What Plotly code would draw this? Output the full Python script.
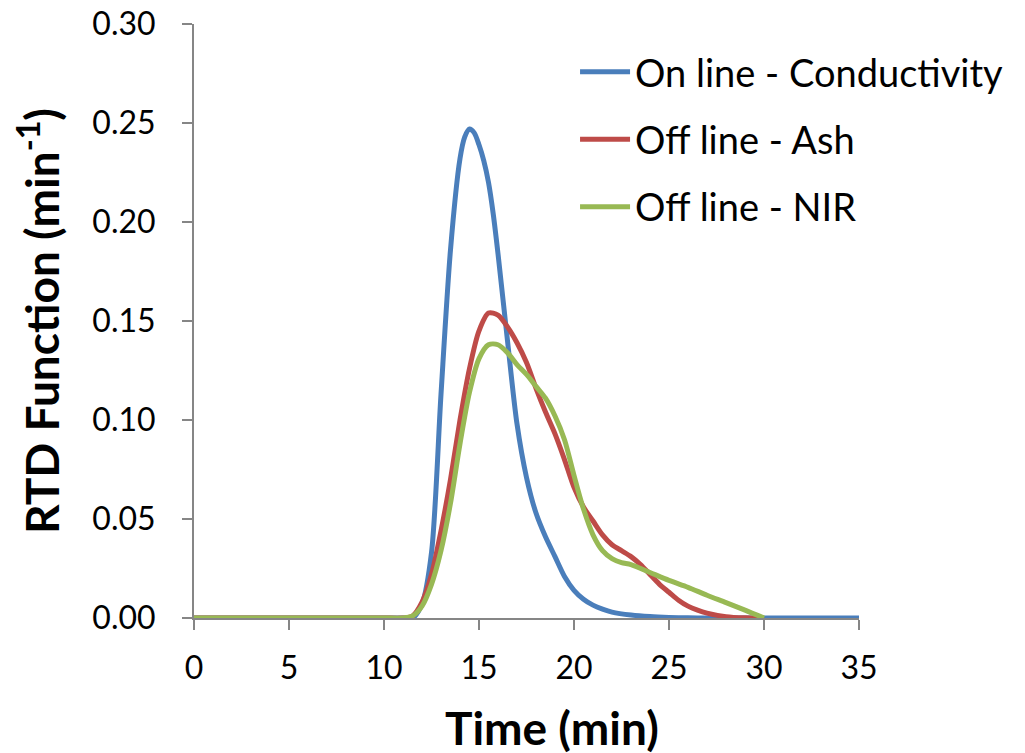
import plotly.graph_objects as go

# Time axis (min)
time_blue = [0, 1, 2, 3, 4, 5, 6, 7, 8, 9, 10, 11, 11.5, 12, 12.5, 13, 13.5, 14, 14.25, 14.5, 14.75, 15,
             15.25, 15.5, 15.75, 16, 16.5, 17, 17.5, 18, 18.5, 19, 19.5, 20, 20.5, 21, 21.5, 22, 23, 24, 25,
             26, 27, 28, 29, 30, 31, 32, 33, 34, 35]
rtd_conductivity = [0, 0, 0, 0, 0, 0, 0, 0, 0, 0, 0, 0, 0.0, 0.007, 0.033, 0.113, 0.186, 0.232, 0.243, 0.247, 0.245, 0.239,
                    0.231, 0.220, 0.204, 0.184, 0.140, 0.098, 0.071, 0.053, 0.041, 0.031, 0.021, 0.014, 0.0095, 0.0065, 0.0045, 0.003, 0.0015, 0.0007, 0.0003,
                    0.0001, 0, 0, 0, 0, 0, 0, 0, 0, 0]

time_ash = [0, 1, 2, 3, 4, 5, 6, 7, 8, 9, 10, 11, 11.5, 12, 12.5, 13, 13.5, 14, 14.5, 15,
            15.5, 16, 16.5, 17, 17.5, 18, 18.5, 19, 19.5, 20, 20.5, 21, 21.5, 22, 22.5, 23,
            23.5, 24, 24.5, 25, 25.5, 26, 26.5, 27, 28, 29, 30]
rtd_ash = [0, 0, 0, 0, 0, 0, 0, 0, 0, 0, 0, 0, 0.001, 0.008, 0.022, 0.044, 0.070, 0.100, 0.126, 0.145,
           0.154, 0.153, 0.147, 0.139, 0.129, 0.116, 0.104, 0.093, 0.080, 0.066, 0.056, 0.049, 0.042, 0.037, 0.034, 0.031,
           0.027, 0.022, 0.017, 0.013, 0.009, 0.006, 0.004, 0.0025, 0.0007, 0.0001, 0]

time_nir = [0, 1, 2, 3, 4, 5, 6, 7, 8, 9, 10, 11, 11.5, 12, 12.5, 13, 13.5, 14, 14.5, 15,
            15.5, 16, 16.5, 17, 17.5, 18, 18.5, 19, 19.5, 20, 20.5, 21, 21.5, 22, 22.5, 23,
            24, 25, 26, 27, 28, 29, 30]
rtd_nir = [0, 0, 0, 0, 0, 0, 0, 0, 0, 0, 0, 0, 0.001, 0.006, 0.017, 0.034, 0.058, 0.088, 0.114, 0.131,
           0.138, 0.138, 0.134, 0.128, 0.123, 0.117, 0.111, 0.102, 0.090, 0.072, 0.055, 0.042, 0.034, 0.030, 0.028, 0.027,
           0.023, 0.019, 0.0155, 0.0115, 0.0078, 0.004, 0]

series_names = ["On line - Conductivity", "Off line - Ash", "Off line - NIR"]
series_colors = ["#4A7EBB", "#BE4B48", "#98B954"]

x_ticks = [0, 5, 10, 15, 20, 25, 30, 35]
y_ticks = [0, 0.05, 0.10, 0.15, 0.20, 0.25, 0.30]

x_title = "<b>Time (min)</b>"
y_title = "<b>RTD Function (min<sup>-1</sup>)</b>"

FONT = "Lato"

fig = go.Figure()
for i, (xs, ys) in enumerate([(time_blue, rtd_conductivity), (time_ash, rtd_ash), (time_nir, rtd_nir)]):
    fig.add_trace(go.Scatter(
        x=xs, y=ys, mode="lines", name=series_names[i], legendgroup=f"g{i}",
        line=dict(color=series_colors[i], width=5, shape="spline", smoothing=0.8),
        cliponaxis=False,
    ))

axis_color = "#868686"
fig.update_layout(
    width=1025, height=753,
    margin=dict(l=186, r=174, t=16, b=143),
    paper_bgcolor="white", plot_bgcolor="white",
    font=dict(family=FONT, color="black"),
    showlegend=True,
    legend=dict(
        x=0.573, y=0.972, xanchor="left", yanchor="top",
        font=dict(family=FONT, size=38, color="black"),
        bgcolor="rgba(0,0,0,0)", tracegroupgap=15, itemwidth=50,
    ),
    xaxis=dict(
        range=[0, 35], tickvals=x_ticks, ticktext=[str(v) for v in x_ticks],
        showgrid=False, zeroline=False, showline=True, linecolor=axis_color, linewidth=2,
        ticks="outside", ticklen=10, tickwidth=2, tickcolor=axis_color,
        tickfont=dict(family=FONT, size=32, color="black"), ticklabelstandoff=11,
        ticklabeloverflow="allow", automargin=False,
    ),
    yaxis=dict(
        range=[0, 0.30], tickvals=y_ticks, tickformat=".2f",
        showgrid=False, zeroline=False, showline=True, linecolor=axis_color, linewidth=2,
        ticks="outside", ticklen=10, tickwidth=2, tickcolor=axis_color,
        tickfont=dict(family=FONT, size=32, color="black"), ticklabelstandoff=20,
        ticklabeloverflow="allow",
        title=dict(text=y_title, font=dict(family=FONT, size=46, color="black"), standoff=23),
        automargin=False,
    ),
    annotations=[dict(
        text=x_title, xref="paper", yref="paper", x=0.538, y=-0.185,
        xanchor="center", yanchor="middle", showarrow=False,
        font=dict(family=FONT, size=46, color="black"),
    )],
)

fig.write_html("out.html")
